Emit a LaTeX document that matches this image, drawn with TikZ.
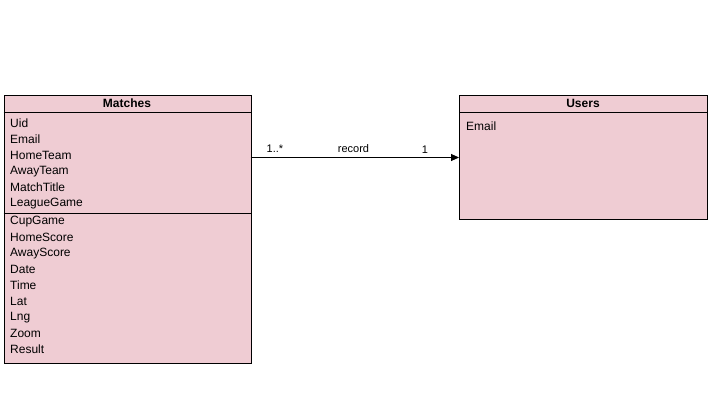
\documentclass[tikz,border=0pt]{standalone}
\usepackage{fontspec}
\setmainfont{Liberation Sans}
\usetikzlibrary{arrows.meta}
\definecolor{boxfill}{HTML}{EFCCD3}
\tikzset{
  classbox/.style={draw=black, fill=boxfill, line width=0.9pt, inner sep=0pt, anchor=north west},
  attr/.style={anchor=west, inner sep=0pt, font=\fontsize{12}{14}\selectfont},
  title/.style={inner sep=0pt, font=\fontsize{12}{14}\selectfont\bfseries},
  lbl/.style={inner sep=0pt, font=\fontsize{11}{12}\selectfont},
  conn/.style={line width=0.9pt, -{Triangle[length=8pt,width=7pt]}}
}
\begin{document}
\begin{tikzpicture}[x=1pt,y=-1pt]
\path[use as bounding box] (0,0) rectangle (714,405);
% Matches
\node[classbox, minimum width=247pt, minimum height=268pt] (matches) at (3.5,95) {};
\draw[line width=0.9pt] (3.5,112.5) -- (250.5,112.5);
\draw[line width=0.9pt] (3.5,213.3) -- (250.5,213.3);
\node[title] (mt) at (127,103.5) {Matches};
\node[attr] (a1) at (10,123.5) {Uid};
\node[attr] (a2) at (10,139.5) {Email};
\node[attr] (a3) at (10,155.5) {HomeTeam};
\node[attr] (a4) at (10,171.5) {AwayTeam};
\node[attr] (a5) at (10,187.5) {MatchTitle};
\node[attr] (a6) at (10,203.5) {LeagueGame};
\node[attr] (b1) at (10,221.5) {CupGame};
\node[attr] (b2) at (10,237.5) {HomeScore};
\node[attr] (b3) at (10,253.5) {AwayScore};
\node[attr] (b4) at (10,269.5) {Date};
\node[attr] (b5) at (10,285.5) {Time};
\node[attr] (b6) at (10,301.5) {Lat};
\node[attr] (b7) at (10,317.5) {Lng};
\node[attr] (b8) at (10,333.5) {Zoom};
\node[attr] (b9) at (10,349.5) {Result};
% Users
\node[classbox, minimum width=248pt, minimum height=124pt] (users) at (459,95) {};
\draw[line width=0.9pt] (459,112.5) -- (707,112.5);
\node[title] (ut) at (583,103.5) {Users};
\node[attr] (u1) at (466,126.5) {Email};
% connector
\coordinate (s) at (250.5,157.5);
\coordinate (t) at (459,157.5);
\draw[conn] (s) -- (t);
\node[lbl] (l1) at (275,148.5) {1..*};
\node[lbl] (l2) at (353.5,148.5) {record};
\node[lbl] (l3) at (425,149.5) {1};
\end{tikzpicture}
\end{document}
